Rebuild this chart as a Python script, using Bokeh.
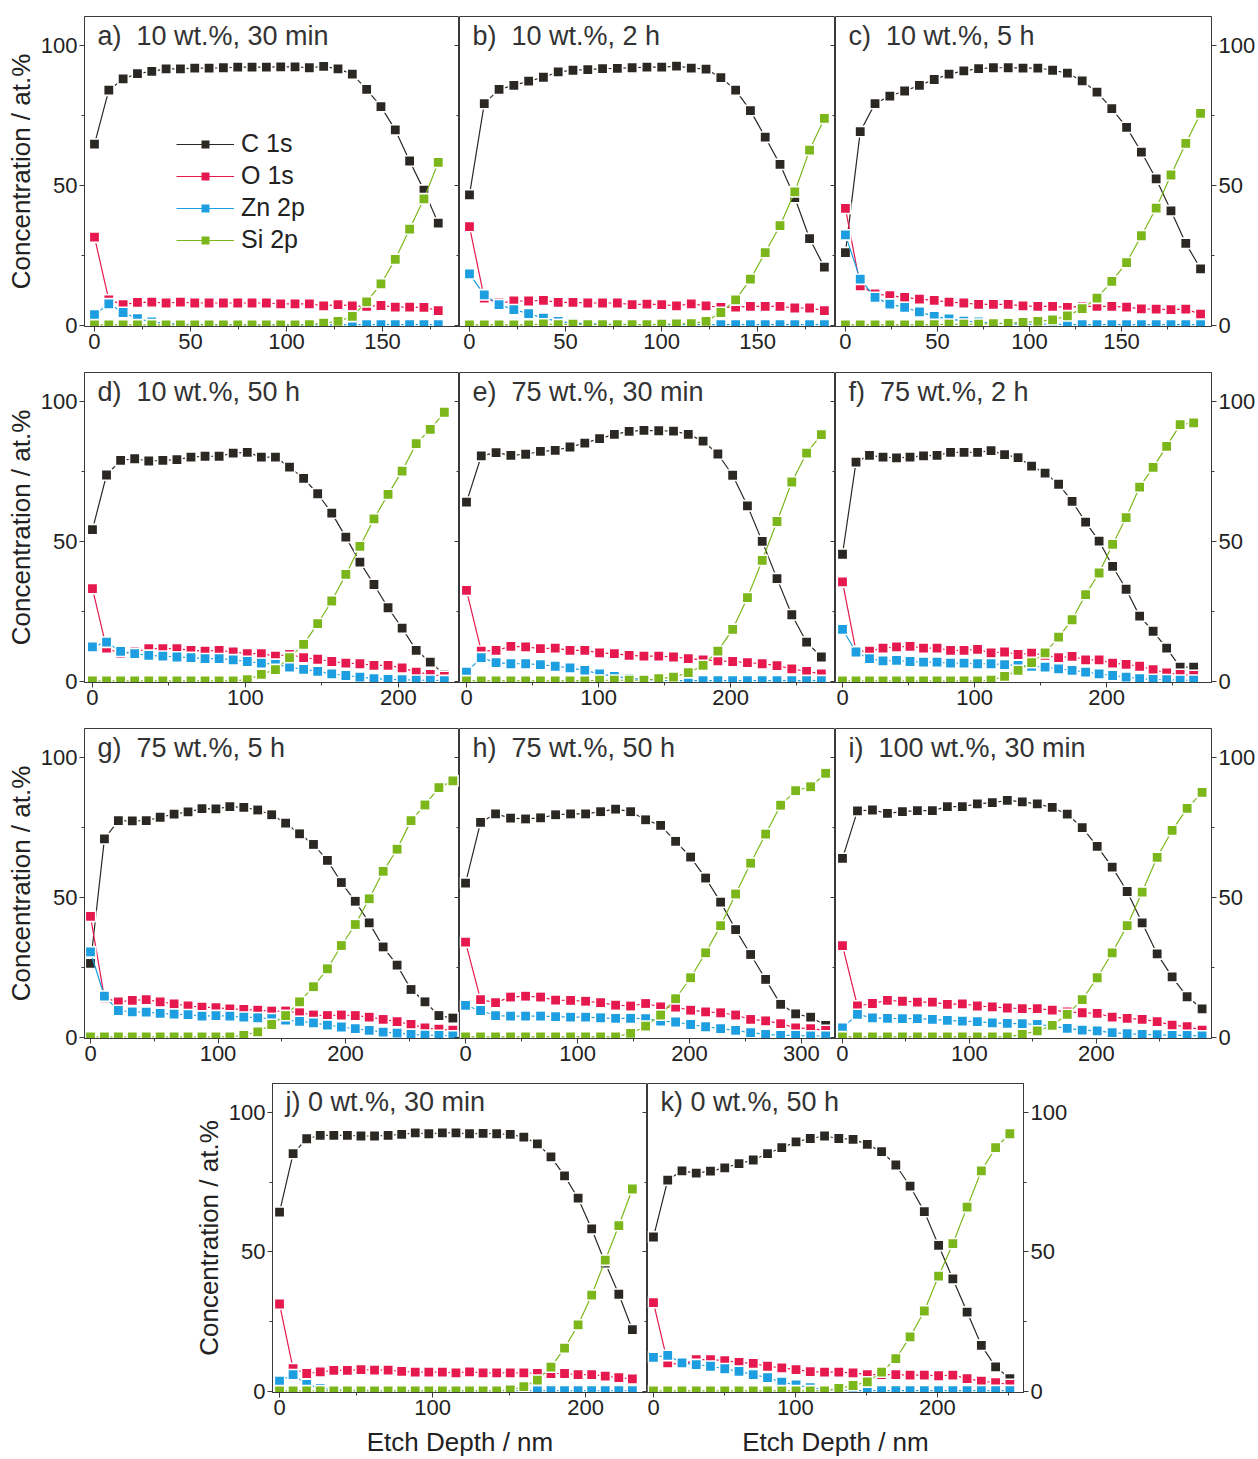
from bokeh.plotting import figure
from bokeh.layouts import column, row
from bokeh.models import (Range1d, LinearAxis, SingleIntervalTicker, Label, Legend,
                          LegendItem, ColumnDataSource)
from bokeh.embed import file_html
from bokeh.resources import INLINE

species = ["C 1s", "O 1s", "Zn 2p", "Si 2p"]
colors = ["#2b2824", "#e6194e", "#1c9ee0", "#7bb71a"]

# ---------------- data (etch step in nm, concentrations in at.%) ----------------
a_step = 7.46
a_C = [64.7, 84.0, 88.0, 89.9, 90.7, 91.6, 91.6, 91.9, 91.9, 92.0, 92.2, 92.2, 92.2, 92.3, 92.3, 92.0, 92.5, 91.6, 89.7, 84.3, 78.1, 69.8, 58.7, 48.3, 36.5]
a_O = [31.5, 9.1, 7.4, 8.2, 8.3, 8.0, 8.3, 8.0, 8.0, 8.0, 8.0, 8.0, 8.0, 7.7, 7.7, 7.7, 7.0, 7.4, 7.0, 6.8, 7.1, 6.5, 6.5, 6.4, 5.3]
a_Zn = [3.8, 7.7, 4.6, 2.4, 1.2, 0.7, 0.5, 0.4, 0.3, 0.3, 0.3, 0.2, 0.2, 0.2, 0.2, 0.2, 0.2, 0.2, 0.3, 0.3, 0.3, 0.3, 0.3, 0.3, 0.3]
a_Si = [0.2, 0.2, 0.2, 0.2, 0.2, 0.2, 0.2, 0.2, 0.2, 0.2, 0.2, 0.2, 0.2, 0.2, 0.2, 0.3, 0.8, 1.4, 3.2, 8.4, 14.8, 23.6, 34.4, 45.2, 58.2]

b_step = 7.7
b_C = [46.6, 79.2, 84.3, 85.7, 87.2, 88.6, 90.5, 91.1, 91.3, 91.7, 91.8, 92.0, 92.2, 92.2, 92.6, 91.9, 91.5, 88.5, 84.0, 76.7, 67.2, 57.5, 45.6, 31.0, 20.8]
b_O = [35.3, 9.7, 8.0, 8.7, 8.7, 8.9, 8.2, 8.2, 8.0, 8.0, 8.0, 7.4, 7.6, 7.4, 7.0, 7.7, 7.0, 6.4, 6.5, 6.8, 6.8, 6.8, 6.2, 6.2, 5.3]
b_Zn = [18.4, 10.9, 7.4, 5.6, 4.2, 2.6, 1.4, 0.8, 0.6, 0.5, 0.4, 0.3, 0.3, 0.3, 0.3, 0.3, 0.3, 0.3, 0.3, 0.3, 0.3, 0.3, 0.3, 0.3, 0.3]
b_Si = [0.2, 0.2, 0.2, 0.2, 0.2, 0.5, 0.3, 0.4, 0.3, 0.3, 0.3, 0.3, 0.3, 0.4, 0.5, 0.6, 1.4, 4.6, 9.1, 16.5, 26.0, 35.6, 47.7, 62.6, 73.9]

c_step = 8.04
c_C = [26.0, 69.2, 79.2, 81.9, 83.7, 85.7, 87.8, 89.7, 90.9, 91.7, 92.0, 92.0, 91.9, 91.9, 91.1, 90.1, 87.3, 83.3, 77.4, 70.7, 61.9, 52.3, 40.9, 29.3, 20.2]
c_O = [41.8, 14.1, 11.2, 10.6, 10.0, 9.4, 8.9, 8.3, 8.0, 7.5, 7.5, 7.5, 7.0, 6.8, 6.8, 6.4, 6.8, 6.8, 6.8, 6.5, 5.9, 5.8, 5.6, 5.8, 4.0]
c_Zn = [32.3, 16.5, 10.0, 7.6, 6.4, 4.8, 3.2, 2.3, 1.5, 1.2, 0.8, 0.6, 0.4, 0.4, 0.4, 0.3, 0.3, 0.3, 0.3, 0.3, 0.3, 0.3, 0.3, 0.3, 0.3]
c_Si = [0.2, 0.2, 0.2, 0.2, 0.2, 0.2, 0.3, 0.4, 0.4, 0.4, 0.6, 0.7, 1.1, 1.4, 2.0, 3.4, 6.0, 9.7, 15.7, 22.4, 32.0, 41.9, 53.7, 65.0, 75.7]

d_step = 9.2
d_C = [54.2, 73.7, 78.9, 79.5, 78.7, 78.9, 79.2, 80.1, 80.4, 80.4, 81.5, 81.8, 80.1, 80.1, 76.5, 72.5, 67.0, 60.1, 51.5, 42.6, 34.6, 26.3, 19.0, 11.1, 6.9, 2.5]
d_O = [33.1, 11.9, 9.9, 10.5, 11.7, 11.7, 11.7, 11.1, 10.8, 11.1, 10.5, 9.9, 9.9, 9.0, 9.6, 8.5, 7.9, 7.1, 6.5, 6.3, 5.7, 5.7, 4.8, 3.3, 2.5, 1.8]
d_Zn = [12.3, 14.0, 10.7, 9.9, 9.3, 9.0, 8.7, 8.5, 8.1, 8.1, 7.7, 7.1, 6.5, 6.1, 5.1, 4.3, 3.6, 2.7, 2.1, 1.5, 1.0, 0.7, 0.6, 0.4, 0.4, 0.3]
d_Si = [0.2, 0.2, 0.2, 0.2, 0.2, 0.2, 0.2, 0.2, 0.2, 0.2, 0.2, 0.6, 2.5, 4.2, 8.5, 13.2, 20.6, 28.7, 38.2, 48.2, 58.0, 66.8, 75.1, 84.9, 90.0, 96.1]

e_step = 11.2
e_C = [64.0, 80.5, 81.7, 80.7, 81.1, 82.1, 82.5, 83.7, 85.1, 86.7, 88.2, 89.3, 89.6, 89.5, 89.4, 88.2, 85.8, 81.2, 73.6, 62.7, 50.0, 36.7, 23.8, 14.0, 8.7]
e_O = [32.5, 10.8, 11.1, 12.5, 12.3, 11.7, 11.9, 11.1, 11.1, 10.2, 9.9, 9.3, 9.0, 9.0, 8.7, 8.1, 7.7, 7.3, 7.1, 6.7, 6.3, 5.6, 4.5, 3.6, 2.7]
e_Zn = [3.3, 8.5, 6.7, 6.3, 6.3, 6.0, 5.4, 4.8, 3.9, 2.7, 1.8, 1.1, 0.7, 0.4, 0.3, 0.3, 0.3, 0.3, 0.3, 0.3, 0.3, 0.3, 0.3, 0.3, 0.3]
e_Si = [0.2, 0.2, 0.2, 0.2, 0.2, 0.2, 0.2, 0.2, 0.2, 0.4, 0.4, 0.4, 0.4, 1.0, 1.5, 3.1, 5.7, 10.8, 18.6, 29.9, 43.2, 57.1, 71.2, 81.5, 88.1]

f_step = 10.23
f_C = [45.4, 78.3, 80.7, 80.1, 79.8, 80.1, 80.5, 80.7, 81.8, 81.8, 81.8, 82.4, 81.0, 79.9, 76.9, 74.4, 70.4, 64.3, 56.9, 50.1, 41.1, 32.9, 23.3, 17.9, 11.9, 5.1, 5.1]
f_O = [35.5, 10.8, 10.8, 11.9, 12.3, 12.5, 11.9, 11.9, 11.1, 11.1, 11.4, 10.2, 10.5, 9.6, 10.1, 9.3, 8.5, 8.9, 7.7, 7.7, 6.5, 6.1, 5.4, 4.2, 3.0, 2.5, 2.1]
f_Zn = [18.6, 10.5, 8.1, 7.3, 7.5, 7.1, 6.9, 6.9, 6.5, 6.5, 6.3, 6.3, 6.0, 5.7, 5.4, 5.1, 4.5, 3.9, 3.3, 2.7, 2.1, 1.5, 1.0, 0.7, 0.6, 0.4, 0.4]
f_Si = [0.2, 0.2, 0.2, 0.2, 0.2, 0.2, 0.2, 0.2, 0.2, 0.2, 0.2, 0.4, 1.8, 3.9, 6.7, 10.2, 15.8, 22.0, 31.0, 38.7, 48.9, 58.5, 69.4, 76.4, 83.9, 91.7, 92.3]

g_step = 10.93
g_C = [26.4, 70.9, 77.4, 77.3, 77.4, 78.6, 79.7, 80.5, 81.7, 81.6, 82.4, 82.1, 81.2, 79.5, 76.5, 72.7, 68.9, 63.2, 55.3, 48.6, 40.9, 32.3, 25.8, 17.1, 12.7, 7.8, 6.9]
g_O = [43.2, 14.1, 12.7, 13.2, 13.5, 12.7, 12.0, 11.2, 10.8, 10.6, 10.2, 10.0, 9.7, 9.4, 9.4, 8.8, 8.0, 7.8, 8.0, 7.8, 7.2, 6.4, 5.6, 4.6, 3.4, 2.9, 2.6]
g_Zn = [30.5, 14.7, 9.6, 9.1, 9.0, 8.6, 8.3, 8.1, 7.6, 7.8, 7.6, 7.2, 7.0, 6.7, 6.2, 5.7, 5.2, 4.4, 3.7, 3.1, 2.5, 1.9, 1.5, 1.1, 0.8, 0.7, 0.5]
g_Si = [0.2, 0.2, 0.2, 0.2, 0.2, 0.2, 0.2, 0.2, 0.2, 0.2, 0.2, 0.7, 2.0, 4.6, 7.8, 12.7, 18.1, 24.5, 32.8, 40.3, 49.5, 59.3, 67.2, 77.4, 83.0, 89.2, 91.6]

h_step = 13.4
h_C = [55.1, 76.8, 79.8, 78.3, 78.0, 78.4, 79.5, 79.8, 79.8, 80.6, 81.5, 80.6, 77.7, 75.7, 70.0, 64.4, 56.9, 48.3, 38.5, 29.6, 20.7, 11.8, 8.4, 7.2, 4.3]
h_O = [34.0, 13.5, 12.4, 14.4, 14.7, 14.4, 13.3, 13.2, 12.9, 12.4, 11.5, 11.2, 12.1, 10.9, 10.8, 9.7, 9.1, 8.8, 8.0, 6.4, 5.9, 4.9, 3.4, 3.1, 2.5]
h_Zn = [11.4, 9.6, 7.8, 7.6, 7.6, 7.6, 7.4, 7.2, 7.2, 7.0, 6.8, 6.8, 6.7, 5.8, 5.5, 4.6, 3.8, 3.1, 2.5, 1.7, 1.1, 0.7, 0.7, 0.5, 0.5]
h_Si = [0.2, 0.2, 0.2, 0.2, 0.2, 0.2, 0.2, 0.2, 0.2, 0.2, 0.2, 1.4, 4.0, 8.0, 13.8, 21.3, 30.2, 39.9, 51.2, 62.2, 72.6, 82.9, 88.1, 89.5, 94.3]

i_step = 11.8
i_C = [63.9, 80.9, 81.2, 80.0, 80.6, 81.0, 81.0, 82.4, 82.4, 83.4, 83.8, 84.6, 84.1, 83.4, 82.1, 79.7, 74.9, 68.2, 60.8, 52.1, 40.9, 29.8, 21.6, 14.5, 10.2]
i_O = [32.8, 11.2, 12.1, 13.2, 12.9, 12.6, 12.6, 11.8, 12.0, 11.2, 10.9, 10.5, 10.3, 10.3, 9.7, 9.1, 8.8, 8.6, 7.2, 6.8, 6.4, 5.6, 4.4, 3.8, 2.6]
i_Zn = [3.4, 8.2, 7.0, 6.8, 6.7, 6.7, 6.4, 6.1, 5.8, 5.6, 5.2, 5.0, 4.9, 4.6, 4.0, 3.2, 2.6, 2.3, 1.7, 1.3, 1.1, 1.0, 0.7, 0.7, 0.5]
i_Si = [0.2, 0.2, 0.2, 0.2, 0.2, 0.2, 0.2, 0.2, 0.2, 0.2, 0.2, 0.2, 1.1, 2.3, 4.3, 8.2, 13.5, 21.3, 30.2, 39.9, 51.9, 64.3, 73.9, 81.8, 87.5]

j_step = 8.87
j_C = [64.2, 85.2, 90.5, 91.7, 91.7, 91.7, 91.5, 91.5, 91.7, 92.1, 92.6, 92.3, 92.6, 92.6, 92.3, 92.4, 92.3, 92.1, 91.1, 88.7, 84.0, 77.2, 69.2, 58.2, 46.0, 34.8, 22.1]
j_O = [31.3, 8.1, 6.4, 7.0, 7.5, 7.5, 7.8, 7.6, 7.6, 7.2, 6.9, 6.9, 6.9, 6.6, 7.0, 6.6, 6.6, 6.6, 6.6, 6.4, 6.4, 6.4, 6.0, 6.0, 5.5, 4.9, 4.5]
j_Zn = [3.7, 6.0, 2.5, 1.1, 0.7, 0.5, 0.4, 0.3, 0.3, 0.3, 0.3, 0.3, 0.3, 0.3, 0.3, 0.3, 0.3, 0.3, 0.3, 0.3, 0.3, 0.3, 0.3, 0.3, 0.3, 0.3, 0.3]
j_Si = [0.2, 0.2, 0.2, 0.2, 0.2, 0.2, 0.2, 0.2, 0.2, 0.2, 0.2, 0.2, 0.2, 0.2, 0.2, 0.2, 0.2, 0.5, 1.7, 4.0, 8.7, 15.5, 23.8, 34.5, 47.0, 59.4, 72.5]

k_step = 10.04
k_C = [55.3, 75.7, 79.0, 78.2, 78.9, 80.1, 81.6, 82.9, 85.2, 87.3, 89.4, 90.6, 91.5, 90.6, 90.3, 88.5, 85.9, 81.1, 73.5, 64.4, 52.3, 40.3, 28.4, 16.5, 8.8, 4.6]
k_O = [31.8, 10.2, 9.6, 11.4, 11.4, 11.0, 10.4, 10.0, 9.0, 8.4, 7.8, 7.1, 6.9, 6.9, 6.6, 6.0, 6.0, 6.0, 5.8, 5.8, 5.6, 5.8, 4.6, 3.7, 3.1, 2.5]
k_Zn = [12.2, 12.9, 10.2, 9.6, 9.0, 8.1, 7.2, 6.0, 4.9, 3.3, 2.3, 1.3, 0.7, 0.4, 0.3, 0.3, 0.3, 0.3, 0.3, 0.3, 0.3, 0.3, 0.3, 0.3, 0.3, 0.3]
k_Si = [0.2, 0.2, 0.2, 0.2, 0.2, 0.2, 0.2, 0.2, 0.2, 0.2, 0.2, 0.2, 0.2, 1.1, 2.1, 3.4, 6.9, 11.7, 19.5, 28.8, 41.3, 52.9, 66.0, 79.0, 87.3, 92.3]

panel_labels = ["a)\u00a0 10 wt.%, 30 min", "b)\u00a0 10 wt.%, 2 h", "c)\u00a0 10 wt.%, 5 h",
                "d)\u00a0 10 wt.%, 50 h", "e)\u00a0 75 wt.%, 30 min", "f)\u00a0 75 wt.%, 2 h",
                "g)\u00a0 75 wt.%, 5 h", "h)\u00a0 75 wt.%, 50 h", "i)\u00a0 100 wt.%, 30 min",
                "j) 0 wt.%, 30 min", "k) 0 wt.%, 50 h"]
y_title = "Concentration / at.%"
x_title = "Etch Depth / nm"

# ---------------- styling ----------------
FONT = "Liberation Sans"
INK = "#3a3a3a"
TXT = "#222222"
FRAME_H = 310
Y_RANGE = (-0.4, 110.3)


def style_axis(ax, title_standoff=2):
    ax.axis_line_color = INK
    ax.major_tick_line_color = INK
    ax.minor_tick_line_color = INK
    ax.major_tick_out = 5
    ax.major_tick_in = 0
    ax.minor_tick_out = 3
    ax.minor_tick_in = 0
    ax.major_label_text_font = FONT
    ax.major_label_text_font_size = "22px"
    ax.major_label_text_color = TXT
    ax.major_label_standoff = 2
    ax.axis_label_text_font = FONT
    ax.axis_label_text_font_size = "26px"
    ax.axis_label_text_font_style = "normal"
    ax.axis_label_text_color = TXT
    ax.axis_label_standoff = title_standoff


def inner_axis(ax):
    # tick marks only (inward), no tick labels drawn
    ax.axis_line_color = None
    ax.major_tick_line_color = INK
    ax.minor_tick_line_color = INK
    ax.major_tick_in = 5
    ax.major_tick_out = 0
    ax.minor_tick_in = 3
    ax.minor_tick_out = 0
    ax.major_label_text_font_size = "0px"
    ax.major_label_text_color = None
    ax.major_label_standoff = 0


def make_panel(label, step, C, O, Zn, Si, x_range, x_interval, frame_w, lb=0, rb=0, tb=0, bb=46,
               left=False, right=False, inner_right=False, legend=False, xtitle=False):
    p = figure(width=lb + frame_w + rb, height=tb + FRAME_H + bb,
               x_range=Range1d(*x_range), y_range=Range1d(*Y_RANGE),
               x_axis_type=None, y_axis_type=None, output_backend="svg", toolbar_location=None,
               min_border_left=lb, min_border_right=rb, min_border_top=tb, min_border_bottom=bb)
    p.outline_line_color = INK
    p.outline_line_width = 1
    p.background_fill_color = "white"
    p.border_fill_color = "white"

    xa = LinearAxis(ticker=SingleIntervalTicker(interval=x_interval, num_minor_ticks=2))
    style_axis(xa, title_standoff=9)
    if xtitle:
        xa.axis_label = x_title
    p.add_layout(xa, "below")
    if left:
        ya = LinearAxis(ticker=SingleIntervalTicker(interval=50, num_minor_ticks=2), axis_label=y_title)
        style_axis(ya, title_standoff=2)
        p.add_layout(ya, "left")
    if right:
        ra = LinearAxis(ticker=SingleIntervalTicker(interval=50, num_minor_ticks=2))
        style_axis(ra)
        p.add_layout(ra, "right")
    if inner_right:
        ia = LinearAxis(ticker=SingleIntervalTicker(interval=50, num_minor_ticks=2))
        inner_axis(ia)
        p.add_layout(ia, "right")

    items = []
    for name, vals, col in zip(species, [C, O, Zn, Si], colors):
        src = ColumnDataSource(dict(x=[i * step for i in range(len(vals))], y=vals))
        lr = p.line("x", "y", source=src, line_color=col, line_width=1.2)
        p.scatter("x", "y", source=src, marker="square", size=12, fill_color="white", line_color=None)
        mr = p.scatter("x", "y", source=src, marker="square", size=8.8, fill_color=col, line_color=None)
        items.append(LegendItem(label=name, renderers=[lr, mr]))
    if legend:
        lg = Legend(items=items, location=(92, 72), glyph_width=58, glyph_height=20,
                    label_height=20, spacing=3, padding=0, margin=0, label_standoff=7,
                    label_text_font=FONT, label_text_font_size="25px", label_text_color=TXT,
                    border_line_color=None, background_fill_alpha=0)
        p.add_layout(lg)
    p.add_layout(Label(x=13, y=FRAME_H - 19, x_units="screen", y_units="screen", text=label,
                       text_font=FONT, text_font_size="27px", text_color="#333333",
                       text_baseline="middle"))
    return p


pa = make_panel(panel_labels[0], a_step, a_C, a_O, a_Zn, a_Si, (-5.2, 190.1), 50, 375, lb=84, tb=16,
                left=True, inner_right=True, legend=True)
pb = make_panel(panel_labels[1], b_step, b_C, b_O, b_Zn, b_Si, (-5.2, 190.6), 50, 376, tb=16,
                inner_right=True)
pc = make_panel(panel_labels[2], c_step, c_C, c_O, c_Zn, c_Si, (-5.4, 198.9), 50, 376, rb=47, tb=16,
                right=True)

pd = make_panel(panel_labels[3], d_step, d_C, d_O, d_Zn, d_Si, (-5.2, 239.9), 100, 375, lb=84,
                left=True, inner_right=True)
pe = make_panel(panel_labels[4], e_step, e_C, e_O, e_Zn, e_Si, (-5.3, 279.5), 100, 376,
                inner_right=True)
pf = make_panel(panel_labels[5], f_step, f_C, f_O, f_Zn, f_Si, (-5.3, 279.5), 100, 376, rb=47,
                right=True)

pg = make_panel(panel_labels[6], g_step, g_C, g_O, g_Zn, g_Si, (-4.7, 289.4), 100, 375, lb=84, bb=45,
                left=True, inner_right=True)
ph = make_panel(panel_labels[7], h_step, h_C, h_O, h_Zn, h_Si, (-5.4, 330.4), 100, 376, bb=45,
                inner_right=True)
pi = make_panel(panel_labels[8], i_step, i_C, i_O, i_Zn, i_Si, (-5.5, 290.6), 100, 376, rb=47, bb=45,
                right=True)

pj = make_panel(panel_labels[9], j_step, j_C, j_O, j_Zn, j_Si, (-4.6, 240.5), 100, 375, lb=272, bb=66,
                left=True, inner_right=True, xtitle=True)
pk = make_panel(panel_labels[10], k_step, k_C, k_O, k_Zn, k_Si, (-4.2, 260.6), 100, 376, rb=235, bb=66,
                right=True, xtitle=True)

layout = column(row(pa, pb, pc), row(pd, pe, pf), row(pg, ph, pi), row(pj, pk))

open("out.html", "w").write(file_html(layout, INLINE))
